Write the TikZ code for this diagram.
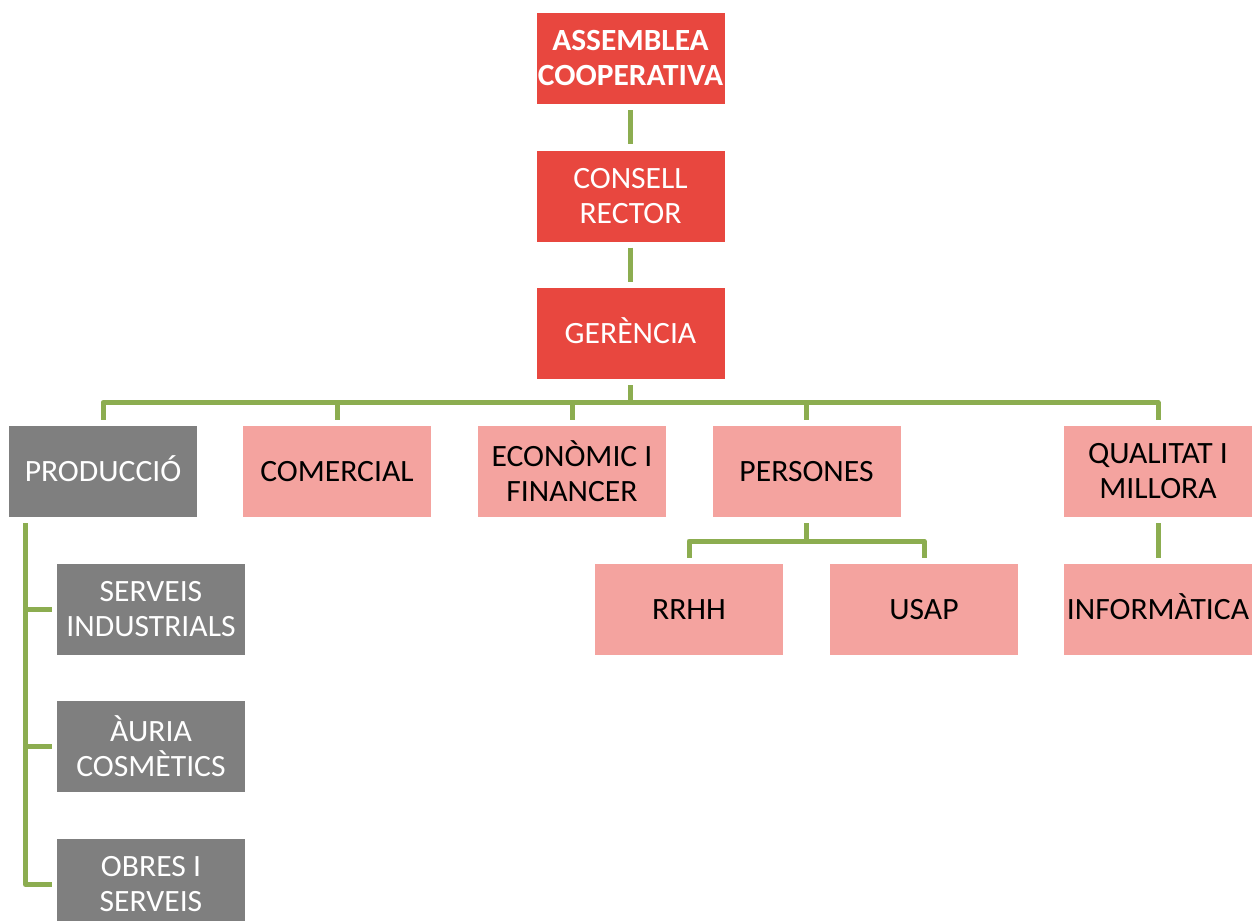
\documentclass[tikz,border=0pt]{standalone}
\usepackage{fontspec}
\setmainfont{Carlito}[FakeStretch=1.02]
\definecolor{cred}{HTML}{E8473F}
\definecolor{cpink}{HTML}{F4A39F}
\definecolor{cgray}{HTML}{7F7F7F}
\definecolor{cgreen}{HTML}{8CAD50}
\tikzset{
  box/.style={minimum width=188pt, minimum height=91pt, inner sep=0pt, align=center,
    font=\fontsize{31}{35}\selectfont},
  one/.style={text height=20pt, text depth=0pt},
  redbox/.style={box, fill=cred, text=white},
  pinkbox/.style={box, fill=cpink, text=black},
  graybox/.style={box, fill=cgray, text=white},
  conn/.style={draw=cgreen, line width=5pt, line join=round}
}
\begin{document}
\begin{tikzpicture}[x=1pt,y=-1pt]
\clip (0,0) rectangle (1253,921);
\fill[white] (0,0) rectangle (1253,921);
\node[redbox, font=\fontsize{30.8}{35}\selectfont\bfseries] (ass) at (630.5,58.5) {ASSEMBLEA\\COOPERATIVA};
\node[redbox] (con) at (630.5,196) {CONSELL\\RECTOR};
\node[redbox, one] (ger) at (630.5,333.5) {GERÈNCIA};
\node[graybox, one] (prod) at (103,471.5) {PRODUCCIÓ};
\node[pinkbox, one] (com) at (337,471.5) {COMERCIAL};
\node[pinkbox] (eco) at (572,471.5) {ECONÒMIC I\\FINANCER};
\node[pinkbox, one] (pers) at (806.5,471.5) {PERSONES};
\node[pinkbox] (qual) at (1158,471.5) {QUALITAT I\\MILLORA};
\node[pinkbox, one] (rrhh) at (689,609.5) {RRHH};
\node[pinkbox, one] (usap) at (924,609.5) {USAP};
\node[pinkbox, one] (info) at (1158,609.5) {INFORMÀTICA};
\node[graybox] (serv) at (151,609.5) {SERVEIS\\INDUSTRIALS};
\node[graybox] (aur) at (151,746.5) {ÀURIA\\COSMÈTICS};
\node[graybox] (obr) at (151,884.5) {OBRES I\\SERVEIS};
\coordinate (busy) at (0,402.5);
\coordinate (py) at (0,541);
\coordinate (px) at (25.5,0);
\coordinate (pbot) at ([yshift=-6]prod.south);
\draw[conn] ([yshift=-6]ass.south) -- ([yshift=6]con.north);
\draw[conn] ([yshift=-6]con.south) -- ([yshift=6]ger.north);
\draw[conn] ([yshift=-6]ger.south) -- (ger.south |- busy);
\draw[conn] ([yshift=6]prod.north) -- (prod.north |- busy) -- (qual.north |- busy) -- ([yshift=6]qual.north);
\foreach \n in {com,eco,pers} \draw[conn] (\n.north |- busy) -- ([yshift=6]\n.north);
\draw[conn] ([yshift=-6]pers.south) -- (pers.south |- py);
\draw[conn] ([yshift=6]rrhh.north) -- (rrhh.north |- py) -- (usap.north |- py) -- ([yshift=6]usap.north);
\draw[conn] ([yshift=-6]qual.south) -- ([yshift=6]info.north);
\draw[conn] (px |- pbot) -- (px |- obr.west) -- ([xshift=-5]obr.west);
\draw[conn] (px |- serv.west) -- ([xshift=-5]serv.west);
\draw[conn] (px |- aur.west) -- ([xshift=-5]aur.west);
\end{tikzpicture}
\end{document}
